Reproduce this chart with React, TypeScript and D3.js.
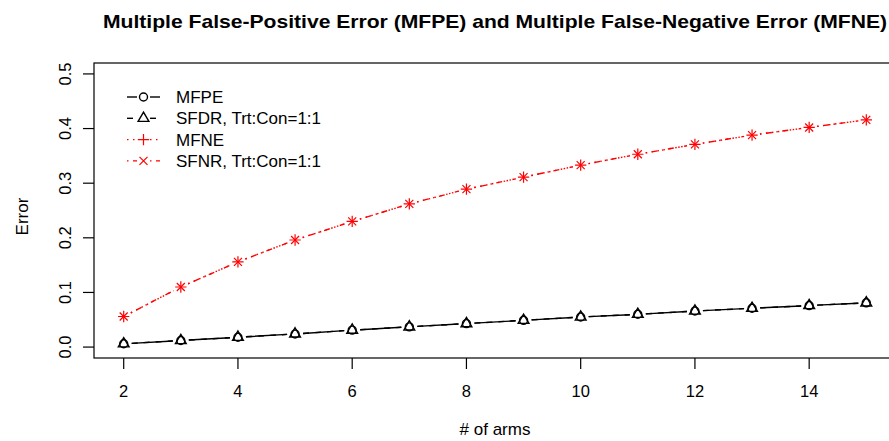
import React from 'react';
import * as d3 from 'd3';

// number of arms
const arms = [2, 3, 4, 5, 6, 7, 8, 9, 10, 11, 12, 13, 14, 15];

// error rates
const mfpe = [0.006, 0.012, 0.018, 0.024, 0.031, 0.037, 0.043, 0.049, 0.055, 0.06, 0.066, 0.071, 0.076, 0.081];
const sfdr = [0.006, 0.012, 0.018, 0.024, 0.031, 0.037, 0.043, 0.049, 0.055, 0.06, 0.066, 0.071, 0.076, 0.081];
const mfne = [0.056, 0.11, 0.156, 0.196, 0.23, 0.262, 0.289, 0.311, 0.333, 0.353, 0.371, 0.388, 0.402, 0.416];
const sfnr = [0.056, 0.11, 0.156, 0.196, 0.23, 0.262, 0.289, 0.311, 0.333, 0.353, 0.371, 0.388, 0.402, 0.416];

const xTicks = [2, 4, 6, 8, 10, 12, 14];
const yTicks = [0, 0.1, 0.2, 0.3, 0.4, 0.5];
const yTickLabels = ['0.0', '0.1', '0.2', '0.3', '0.4', '0.5'];

const legendLabels = ['MFPE', 'SFDR, Trt:Con=1:1', 'MFNE', 'SFNR, Trt:Con=1:1'];

const width = 889;
const height = 441;
const box = { left: 94, top: 63, right: 896, bottom: 358 };
const font = 'Liberation Sans, Arial, Helvetica, sans-serif';

const x = d3.scaleLinear().domain([1.48, 15.52]).range([box.left, box.right]);
const y = d3.scaleLinear().domain([-0.02, 0.52]).range([box.bottom, box.top]);

type Pch = 'circle' | 'triangle' | 'plus' | 'cross';

const R = 4;

function Marker({ cx, cy, pch, color }: { cx: number; cy: number; pch: Pch; color: string }) {
  const common = { fill: 'none', stroke: color, strokeWidth: 1.4 };
  if (pch === 'circle') return <circle cx={cx} cy={cy} r={R} {...common} />;
  if (pch === 'triangle') {
    const r = 1.555 * R;
    const pts = [
      [cx, cy - r],
      [cx + r * 0.866, cy + r * 0.5],
      [cx - r * 0.866, cy + r * 0.5],
    ];
    return <polygon points={pts.map((p) => p.join(',')).join(' ')} {...common} />;
  }
  if (pch === 'plus') {
    const h = Math.SQRT2 * R;
    return (
      <path d={`M${cx - h},${cy}H${cx + h}M${cx},${cy - h}V${cy + h}`} {...common} strokeWidth={1.2} />
    );
  }
  return (
    <path
      d={`M${cx - R},${cy - R}L${cx + R},${cy + R}M${cx - R},${cy + R}L${cx + R},${cy - R}`}
      {...common}
      strokeWidth={1.2}
    />
  );
}

// type="b" style: segments between points, leaving a gap around each point
function gappedSegments(xs: number[], ys: number[], gap: number) {
  let d = '';
  for (let i = 0; i < xs.length - 1; i++) {
    const x0 = x(xs[i]);
    const y0 = y(ys[i]);
    const x1 = x(xs[i + 1]);
    const y1 = y(ys[i + 1]);
    const len = Math.hypot(x1 - x0, y1 - y0);
    if (len <= gap * 2) continue;
    const ux = (x1 - x0) / len;
    const uy = (y1 - y0) / len;
    d += `M${x0 + ux * gap},${y0 + uy * gap}L${x1 - ux * gap},${y1 - uy * gap}`;
  }
  return d;
}

const series = [
  { values: mfpe, color: '#000000', dash: undefined as string | undefined, pch: 'circle' as Pch, lw: 1.4 },
  { values: sfdr, color: '#000000', dash: '6,6', pch: 'triangle' as Pch, lw: 1.4 },
  { values: mfne, color: '#ff0000', dash: '1.5,4.5', pch: 'plus' as Pch, lw: 1.4 },
  { values: sfnr, color: '#ff0000', dash: '1.5,4.5,6,4.5', pch: 'cross' as Pch, lw: 1.4 },
];

export default function App() {
  return (
    <svg
      width={width}
      height={height}
      style={{ position: 'absolute', left: 0, top: 0, background: '#fff' }}
      fontFamily={font}
    >
      <rect width={width} height={height} fill="#fff" />
      <text x={495} y={28} textAnchor="middle" fontSize={19} fontWeight="bold" textLength={784} lengthAdjust="spacingAndGlyphs">
        Multiple False-Positive Error (MFPE) and Multiple False-Negative Error (MFNE)
      </text>

      {series.map((s, i) => (
        <g key={i}>
          <path d={gappedSegments(arms, s.values, 8)} fill="none" stroke={s.color} strokeWidth={s.lw} strokeDasharray={s.dash} />
          {arms.map((a, j) => (
            <Marker key={j} cx={x(a)} cy={y(s.values[j])} pch={s.pch} color={s.color} />
          ))}
        </g>
      ))}

      <rect
        x={box.left}
        y={box.top}
        width={box.right - box.left}
        height={box.bottom - box.top}
        fill="none"
        stroke="#000"
        strokeWidth={1.2}
      />

      {/* x axis */}
      <g>
        {xTicks.map((t) => (
          <g key={t}>
            <line x1={x(t)} x2={x(t)} y1={box.bottom} y2={box.bottom + 11} stroke="#000" strokeWidth={1.2} />
            <text x={x(t)} y={397} textAnchor="middle" fontSize={16.5}>
              {t}
            </text>
          </g>
        ))}
        <text x={495} y={435} textAnchor="middle" fontSize={17}>
          # of arms
        </text>
      </g>

      {/* y axis */}
      <g>
        {yTicks.map((t, i) => (
          <g key={t}>
            <line x1={box.left - 11} x2={box.left} y1={y(t)} y2={y(t)} stroke="#000" strokeWidth={1.2} />
            <text transform={`translate(71,${y(t)}) rotate(-90)`} textAnchor="middle" fontSize={16.5}>
              {yTickLabels[i]}
            </text>
          </g>
        ))}
        <text transform={`translate(28,${(box.top + box.bottom) / 2 + 6}) rotate(-90)`} textAnchor="middle" fontSize={17}>
          Error
        </text>
      </g>

      {/* legend */}
      <g>
        {series.map((s, i) => {
          const cy = 97 + i * 21.3;
          return (
            <g key={i}>
              <line x1={127} x2={137} y1={cy} y2={cy} stroke={s.color} strokeWidth={s.lw} strokeDasharray={s.dash} />
              <line x1={150} x2={160} y1={cy} y2={cy} stroke={s.color} strokeWidth={s.lw} strokeDasharray={s.dash} />
              <Marker cx={143.5} cy={cy} pch={s.pch} color={s.color} />
              <text x={176} y={cy + 6} fontSize={17}>
                {legendLabels[i]}
              </text>
            </g>
          );
        })}
      </g>
    </svg>
  );
}
